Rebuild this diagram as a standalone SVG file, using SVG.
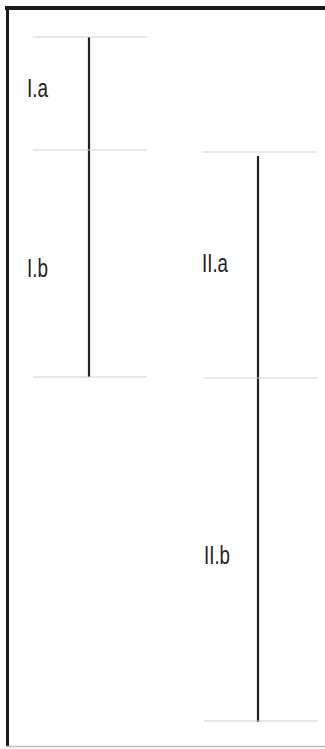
<svg xmlns="http://www.w3.org/2000/svg" width="325" height="749" viewBox="0 0 325 749">
<style>
.frame{stroke:#1a1a1a;fill:none}
.tick{stroke:#cfcfcf;stroke-width:1.2}
.bar{stroke:#222;stroke-width:2.2}
.lbl{font-family:"Liberation Sans",Arial,sans-serif;font-size:25px;fill:#222}
</style>
<rect width="325" height="749" fill="#fff"/>
<g id="frame">
<line class="frame" x1="5" y1="8" x2="325" y2="8" stroke-width="4"/>
<line class="frame" x1="7.5" y1="6" x2="7.5" y2="746" stroke-width="3"/>
<line x1="6" y1="746.5" x2="325" y2="746.5" stroke="#bdbdbd" stroke-width="1.5"/>
</g>
<g id="connectors">
<line class="bar" x1="89" y1="37" x2="89" y2="377"/>
<line class="bar" x1="258" y1="156" x2="258" y2="722"/>
</g>
<g id="I">
<line class="tick" x1="33" y1="37" x2="147" y2="37"/>
<line class="tick" x1="33" y1="150" x2="147" y2="150"/>
<line class="tick" x1="33" y1="377" x2="147" y2="377"/>
</g>
<g id="II">
<line class="tick" x1="202" y1="152" x2="316" y2="152"/>
<line class="tick" x1="204" y1="378" x2="318" y2="378"/>
<line class="tick" x1="204" y1="721" x2="318" y2="721"/>
</g>
<g id="I.a"><text class="lbl" x="27" y="97" textLength="21" lengthAdjust="spacingAndGlyphs">I.a</text></g>
<g id="I.b"><text class="lbl" x="27" y="277" textLength="21" lengthAdjust="spacingAndGlyphs">I.b</text></g>
<g id="II.a"><text class="lbl" x="202" y="272" textLength="26" lengthAdjust="spacingAndGlyphs">II.a</text></g>
<g id="II.b"><text class="lbl" x="204" y="564" textLength="26" lengthAdjust="spacingAndGlyphs">II.b</text></g>
</svg>
